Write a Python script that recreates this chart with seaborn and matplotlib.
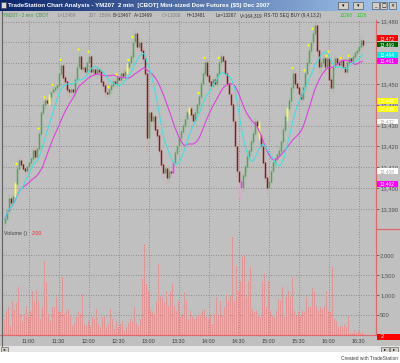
import matplotlib
matplotlib.use("Agg")
import matplotlib.pyplot as plt
import matplotlib.transforms as mtransforms
from matplotlib.patches import Rectangle
import numpy as np
import pandas as pd
import seaborn as sns

# ---- data: YM 2-min bars, first bar 10:36, last bar 16:34 ----
first_bar_min = 10 * 60 + 36
first_open = 13383

closes = [13385, 13389, 13395, 13393, 13396, 13402, 13409, 13413, 13411, 13409,
          13408, 13410, 13412, 13414, 13418, 13415, 13419, 13426, 13436, 13440,
          13442, 13441, 13444, 13446, 13447, 13448, 13449, 13455, 13459, 13453,
          13451, 13447, 13446, 13447, 13446, 13452, 13458, 13463, 13457, 13458,
          13456, 13460, 13463, 13456, 13457, 13455, 13457, 13456, 13451, 13449,
          13446, 13445, 13447, 13449, 13451, 13450, 13453, 13452, 13455, 13454,
          13456, 13458, 13460, 13463, 13470, 13474, 13468, 13470, 13466, 13462,
          13455, 13424, 13436, 13432, 13434, 13428, 13425, 13418, 13411, 13407,
          13409, 13405, 13408, 13407, 13412, 13417, 13420, 13424, 13427, 13430,
          13433, 13436, 13438, 13435, 13432, 13436, 13440, 13444, 13450, 13455,
          13460, 13454, 13451, 13449, 13452, 13450, 13455, 13460, 13463, 13461,
          13455, 13450, 13445, 13440, 13432, 13420, 13408, 13403, 13400, 13406,
          13410, 13415, 13418, 13422, 13426, 13432, 13430, 13425, 13420, 13412,
          13405, 13400, 13403, 13408, 13412, 13414, 13416, 13418, 13422, 13428,
          13434, 13438, 13442, 13448, 13455, 13450, 13448, 13445, 13443, 13448,
          13455, 13460, 13466, 13470, 13474, 13478, 13466, 13458, 13460, 13462,
          13458, 13462, 13452, 13448, 13458, 13462, 13460, 13459, 13461, 13458,
          13456, 13460, 13462, 13461, 13463, 13465, 13466, 13468, 13471, 13469]

# how far high / low reach beyond the bar body
up_wick = [2, 1, 2, 1, 1, 1, 2, 1, 2, 1, 1, 1, 2, 1, 1, 2, 1, 2, 1, 2,
           1, 2, 1, 1, 2, 1, 1, 2, 2, 1, 2, 1, 1, 2, 1, 1, 2, 3, 1, 1,
           2, 1, 2, 1, 1, 2, 1, 1, 2, 1, 1, 2, 1, 1, 2, 1, 1, 2, 1, 2,
           1, 2, 1, 2, 2, 2, 1, 2, 1, 2, 2, 2, 3, 1, 2, 1, 2, 1, 2, 1,
           2, 1, 2, 1, 1, 2, 1, 1, 2, 1, 2, 1, 1, 2, 1, 2, 1, 1, 2, 2,
           2, 2, 1, 2, 1, 2, 1, 2, 2, 1, 1, 2, 1, 2, 2, 1, 2, 1, 2, 1,
           1, 2, 1, 1, 2, 2, 1, 2, 1, 2, 1, 2, 1, 1, 2, 1, 1, 2, 1, 2,
           2, 1, 2, 1, 2, 1, 2, 1, 1, 2, 1, 2, 2, 1, 2, 3, 2, 1, 2, 2,
           2, 1, 3, 2, 1, 2, 1, 2, 1, 2, 1, 2, 1, 1, 2, 1, 2, 1, 2, 1]
dn_wick = [2, 1, 1, 2, 1, 1, 1, 2, 1, 1, 2, 1, 1, 2, 1, 1, 2, 1, 1, 1,
           2, 1, 1, 2, 1, 1, 2, 1, 1, 2, 1, 2, 2, 1, 1, 2, 1, 1, 2, 1,
           1, 2, 1, 2, 1, 1, 2, 1, 1, 2, 2, 1, 1, 2, 1, 1, 2, 1, 1, 1,
           2, 1, 1, 1, 2, 1, 2, 1, 1, 2, 1, 6, 2, 2, 1, 2, 2, 2, 1, 2,
           1, 3, 2, 1, 2, 2, 1, 1, 2, 1, 1, 2, 1, 2, 2, 1, 1, 2, 1, 1,
           1, 2, 1, 2, 1, 1, 2, 1, 1, 2, 1, 1, 2, 1, 2, 2, 3, 8, 6, 2,
           1, 2, 1, 2, 1, 1, 2, 2, 1, 2, 2, 3, 2, 1, 1, 2, 1, 1, 2, 1,
           1, 2, 1, 1, 2, 2, 1, 2, 2, 1, 2, 1, 1, 2, 1, 1, 2, 3, 2, 1,
           2, 1, 2, 1, 3, 1, 2, 1, 2, 1, 2, 1, 1, 2, 1, 1, 2, 1, 1, 2]

volume = [400, 600, 690, 230, 840, 630, 790, 1190, 515, 350,
          520, 730, 440, 610, 1110, 860, 1125, 815, 400, 690,
          1860, 1315, 515, 350, 690, 690, 940, 610, 575, 1440,
          515, 610, 650, 485, 235, 300, 440, 575, 515, 1025,
          275, 235, 350, 235, 440, 400, 650, 275, 190, 440,
          485, 190, 275, 650, 400, 150, 350, 190, 275, 350,
          110, 190, 300, 400, 350, 690, 300, 235, 400, 1400,
          2275, 1275, 1110, 650, 575, 515, 860, 1775, 985, 940,
          815, 1110, 730, 1065, 1275, 730, 610, 860, 440, 515,
          1065, 860, 400, 610, 485, 400, 440, 515, 485, 610,
          650, 450, 400, 515, 275, 515, 940, 485, 860, 485,
          690, 1025, 860, 985, 2460, 860, 1735, 1110, 1360, 1940,
          2000, 940, 1360, 1690, 650, 575, 610, 485, 440, 1360,
          1525, 690, 1360, 610, 485, 440, 610, 900, 860, 1190,
          440, 940, 1110, 940, 1440, 610, 485, 575, 485, 610,
          575, 940, 690, 690, 1165, 1065, 730, 610, 690, 650,
          730, 1110, 610, 575, 1690, 400, 350, 190, 235, 190,
          275, 190, 485, 50, 50, 120, 60, 90, 40, 70]

# TD sequential paint / marks
yellow_dot_bars = [6, 17, 20, 24, 28, 37, 42, 52, 56, 62, 64, 97, 100, 107,
                   144, 150, 152, 154, 155, 161, 162, 168, 172]
yellow_bars = [5, 22, 61, 92, 127, 141]
magenta_bars = [84, 118]

level_prices = [13472, 13469, 13464, 13461, 13442, 13438, 13432, 13408, 13402]
level_colors = ['#ff0000', '#006400', '#00e8e8', '#ff00ff', '#ffff00',
                '#ffff00', '#ffffff', '#ffffff', '#ff00ff']

# scale labels that sit fully under the level boxes
hidden_scale_labels = [13460, 13470]

time_ticks = ['11:00', '11:30', '12:00', '12:30', '13:00', '13:30',
              '14:00', '14:30', '15:00', '15:30', '16:00', '16:30']

fast_len = 10
slow_len = 20

# ---- build the frame ----
df = pd.DataFrame({'close': closes})
df['t'] = first_bar_min + 2 * np.arange(len(df))
df['open'] = [first_open] + closes[:-1]
df['high'] = df[['open', 'close']].max(axis=1) + np.array(up_wick)
df['low'] = df[['open', 'close']].min(axis=1) - np.array(dn_wick)
df['vol'] = volume
df['fast'] = df['close'].rolling(fast_len, min_periods=1).mean()
df['slow'] = df['close'].rolling(slow_len, min_periods=1).mean()

sns.set_style('white')
plt.rcParams['font.family'] = ['Liberation Sans', 'DejaVu Sans']

W, H = 400, 363
BG = '#c0c0c0'
GRID = '#7c7c7c'
RED_LINE = '#e06868'

fig = plt.figure(figsize=(W / 100, H / 100), dpi=100)
fig.patch.set_facecolor(BG)


def fbox(x0, y0, x1, y1):
    return [x0 / W, 1 - y1 / H, (x1 - x0) / W, (y1 - y0) / H]


def ftext(x, y, s, **kw):
    fig.text(x / W, 1 - y / H, s, va='center', **kw)


def frect(x0, y0, x1, y1, **kw):
    fig.patches.append(Rectangle((x0 / W, 1 - y1 / H), (x1 - x0) / W, (y1 - y0) / H,
                                 transform=fig.transFigure, figure=fig, **kw))


ax1 = fig.add_axes(fbox(3, 20, 376, 229))
ax2 = fig.add_axes(fbox(3, 229, 376, 335), sharex=ax1)
xlim = (first_bar_min - 1.5, first_bar_min - 1.5 + 373)
tick_pos = [11 * 60 + 30 * k for k in range(len(time_ticks))]

for ax in (ax1, ax2):
    ax.set_facecolor(BG)
    for s in ('left', 'top', 'bottom'):
        ax.spines[s].set_visible(False)
    ax.spines['right'].set_color(RED_LINE)
    ax.spines['right'].set_linewidth(0.9)
    ax.yaxis.tick_right()
    ax.grid(True, color=GRID, linestyle=(0, (1, 2)), linewidth=0.6)
    ax.set_axisbelow(True)
    ax.tick_params(axis='y', length=2, width=0.5, color='#404040', pad=1,
                   labelsize=4.2, labelcolor='#505050')

# ---- price panel ----
ax1.set_xlim(*xlim)
ax1.set_ylim(13380.3, 13480.8)
yt = list(range(13390, 13481, 10))
ax1.set_yticks(yt)
ax1.set_yticklabels(['' if v in hidden_scale_labels else f'{v:,}' for v in yt])
ax1.set_xticks(tick_pos)
ax1.tick_params(axis='x', length=0, labelbottom=False)

up = df['close'] >= df['open']
wick_col = np.where(up, '#a2c6a2', '#dcaaaa')
body_col = np.where(up, '#5a9f5a', '#7e1e1e')
for i in yellow_bars:
    wick_col[i] = '#f0f070'
    body_col[i] = '#ffff30'
for i in magenta_bars:
    wick_col[i] = '#e8a0e8'
    body_col[i] = '#ff30ff'

ax1.vlines(df['t'], df['low'], df['high'], colors=wick_col, linewidth=1.05, zorder=2)
body_lo = df[['open', 'close']].min(axis=1)
body_hi = df[['open', 'close']].max(axis=1) + 0.4
ax1.vlines(df['t'], body_lo, body_hi, colors=body_col, linewidth=1.05, zorder=3)

sns.lineplot(x=df['t'], y=df['slow'], color='#e040e0', linewidth=0.8, ax=ax1, zorder=4)
sns.lineplot(x=df['t'], y=df['fast'], color='#40e0e0', linewidth=0.8, ax=ax1, zorder=4)

dots = df.iloc[yellow_dot_bars]
sns.scatterplot(x=dots['t'], y=dots['high'] + 0.6, color='#ffff00', s=2.5,
                edgecolor='none', ax=ax1, zorder=5)
ax1.set_xlabel('')
ax1.set_ylabel('')

# coloured level boxes on the price scale
blend1 = mtransforms.blended_transform_factory(ax1.transAxes, ax1.transData)
for p, c in zip(level_prices, level_colors):
    ax1.add_patch(Rectangle((1.003, p - 1.4), 0.056, 2.8, transform=blend1,
                            facecolor=c, edgecolor='none', clip_on=False, zorder=10))
    tc = '#a8a8a8' if c == '#ffffff' else 'white'
    ax1.text(1.011, p, f'{p:,}', transform=blend1, color=tc, fontsize=3.5,
             va='center', ha='left', clip_on=False, zorder=11)

# ---- volume panel ----
ax2.bar(df['t'], df['vol'], width=1.55, color='#e39494', edgecolor='none', zorder=2)
ax2.set_ylim(0, 2650)
vt = [500, 1000, 1500, 2000]
ax2.set_yticks(vt)
ax2.set_yticklabels([f'{v:,}' for v in vt])
ax2.set_xticks(tick_pos)
ax2.set_xticklabels(time_ticks)
ax2.spines['bottom'].set_visible(True)
ax2.spines['bottom'].set_color(RED_LINE)
ax2.spines['bottom'].set_linewidth(0.9)
ax2.tick_params(axis='x', length=1.5, width=0.5, color='#404040', pad=1.5,
                labelsize=3.9, labelcolor='#404040')

blend2 = mtransforms.blended_transform_factory(ax2.transAxes, ax2.transData)
ax2.add_patch(Rectangle((1.003, -115), 0.062, 140, transform=blend2,
                        facecolor='#ff0000', edgecolor='none', clip_on=False, zorder=10))
ax2.text(1.012, -45, '2', transform=blend2, color='white', fontsize=4.2,
         va='center', ha='left', clip_on=False, zorder=11)

ftext(4, 233, 'Volume ()', fontsize=3.8, color='#404040')
ftext(32, 233, '2.00', fontsize=3.8, color='#ff2020')

# separators on the scale strip
fig.add_artist(plt.Line2D([376 / W, 1], [1 - 229 / H] * 2, color=RED_LINE, lw=0.9))
fig.add_artist(plt.Line2D([0, 3 / W], [1 - 335 / H] * 2, color=RED_LINE, lw=0.9))
fig.add_artist(plt.Line2D([2 / W] * 2, [1 - 11 / H, 1 - 346 / H], color='#606060', lw=0.8))

# ---- title bar ----
axt = fig.add_axes(fbox(0, 0, 400, 11))
grad = np.linspace(0, 1, 256)[None, :]
axt.imshow(grad, aspect='auto', cmap=matplotlib.colors.LinearSegmentedColormap.from_list(
    'tb', ['#0a246a', '#a6caf0']), extent=(0, 1, 0, 1))
axt.set_axis_off()
frect(1, 2, 6, 8, facecolor='#d8d8d8', edgecolor='#404040', linewidth=0.4)
ftext(8, 5.5, 'TradeStation Chart Analysis - YM207  2 min  [CBOT] Mini-sized Dow Futures ($5) Dec 2007',
      fontsize=4.4, color='white', fontweight='bold')
for x0, x1, sym in [(338, 348, '▾'), (353, 363, '▾'), (372, 379, '_'), (380, 387, '□'), (389, 396, '×')]:
    frect(x0, 2, x1, 9, facecolor='#d4d0c8', edgecolor='#404040', linewidth=0.4)
    ftext((x0 + x1) / 2, 5.5, sym, fontsize=3.5, color='black', ha='center',
          family=['DejaVu Sans'])

# ---- status line ----
status = [('YM207 - 2 min  CBOT', 3, '#3c9a3c'), ('L=13469', 58, '#808080'),
          ('207', 89, '#808080'), ('1.56%', 99, '#808080'), ('B=13467', 113, '#303030'),
          ('A=13469', 134, '#303030'), ('O=13268', 162, '#808080'), ('H=13481', 187, '#303030'),
          ('Lo=13267', 216, '#303030'), ('V=164,319', 240, '#303030'),
          ('RS-TD SEQ BUY (9,4,13,2)', 264, '#303030'), ('13268', 340, '#22cc22'),
          ('1326', 357, '#22cc22')]
for s, x, c in status:
    ftext(x, 15.5, s, fontsize=3.3, color=c)

# ---- scrollbar and footer ----
frect(0, 346, 400, 352, facecolor='#e6e6e6', edgecolor='none')
for x0, x1, sym in [(1, 8, '◂'), (381, 389, '▸'), (390, 398, '▸')]:
    frect(x0, 346.5, x1, 351.5, facecolor='#d4d0c8', edgecolor='#505050', linewidth=0.4)
    ftext((x0 + x1) / 2, 349, sym, fontsize=3.2, color='black', ha='center',
          family=['DejaVu Sans'])
frect(0, 352, 400, 363, facecolor='white', edgecolor='none')
ftext(398, 358.5, 'Created with TradeStation', fontsize=3.5, color='#404040', ha='right')

fig.savefig('out.png', dpi=100, facecolor=fig.get_facecolor())
